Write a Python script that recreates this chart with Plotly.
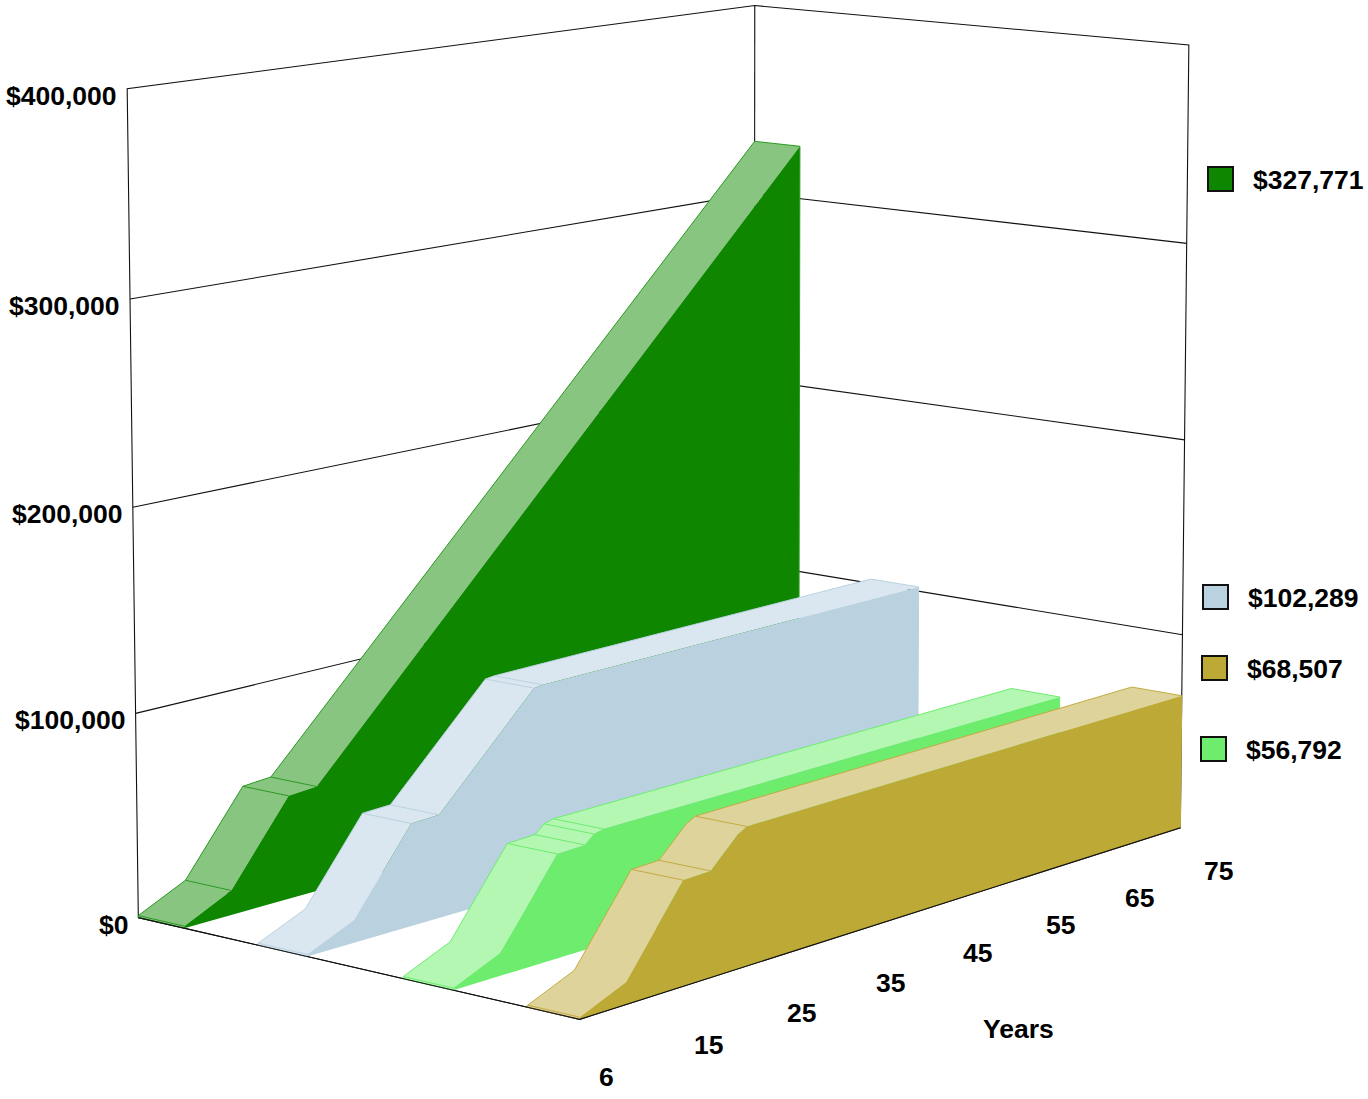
import numpy as np
import plotly.graph_objects as go

# Balances over time, one series per band, back to front.
dark_green_years = [6, 10, 15, 18, 75]
dark_green_values = [1000, 12000, 51000, 52000, 327771]
light_blue_years = [6, 10, 15, 18, 28.5, 29.5, 75]
light_blue_values = [1000, 11000, 50000, 50500, 100500, 101000, 102289]
light_green_years = [6, 10, 15, 18, 19, 20, 75]
light_green_values = [1000, 10800, 50000, 50500, 54500, 55700, 56792]
gold_years = [6, 10, 15, 18, 21, 22, 75]
gold_values = [1000, 10500, 50000, 50500, 64000, 66500, 68507]

year_ticks = [6, 15, 25, 35, 45, 55, 65, 75]
value_ticks = [0, 100000, 200000, 300000, 400000]
value_labels = ["$0", "$100,000", "$200,000", "$300,000", "$400,000"]
axis_title = "Years"
legend_labels = ["$327,771", "$102,289", "$68,507", "$56,792"]

VALUE_MAX = 400000.0
# Where each year tick sits along the unit length of the floor, and its label offset.
YEAR_TICK_POSITIONS = [0, 0.156, 0.297, 0.438, 0.578, 0.719, 0.859, 1]
YEAR_LABEL_DX = [27, 25, 27.9, 29.7, 33.5, 34.3, 35.2, 38]
YEAR_LABEL_DY = [58, 58.3, 55, 53.6, 50.2, 47.8, 45.4, 43]
FONT = dict(family="Liberation Sans, Arial, sans-serif", size=26.5, color="#000000", weight=700)

# Pinhole camera for the box: unit coordinates (along years, into depth, up) against pixels.
# The floor corners are listed more than once so the fit holds them tightest.
box_world = [(0, 0, 0)] * 4 + [(1, 0, 0)] * 2 + [(0, 1, 0)] * 2 + [
    (1, 1, 0), (1, 0, 1), (0, 1, 1), (1, 1, 1),
    (1, 0, .25), (1, 0, .5), (1, 0, .75), (0, 1, .25), (0, 1, .5), (0, 1, .75)]
box_pixel = [(580, 1020)] * 4 + [(1180, 827)] * 2 + [(138, 916)] * 2 + [
    (755, 750), (1189, 45), (127, 90), (755, 5),
    (1182, 634), (1184, 440), (1187, 243), (135, 713), (133, 507), (130, 299)]


def solve_camera(world, pixel):
    rows = []
    for (a, b, c), (u, v) in zip(world, pixel):
        rows.append([a, b, c, 1, 0, 0, 0, 0, -u * a, -u * b, -u * c, -u])
        rows.append([0, 0, 0, 0, a, b, c, 1, -v * a, -v * b, -v * c, -v])
    return np.linalg.svd(np.array(rows, float))[2][-1].reshape(3, 4)


CAMERA = solve_camera(box_world, box_pixel)


def project(t, d, v):
    h = CAMERA @ np.array([t, d, v, 1.0])
    return float(h[0] / h[2]), float(h[1] / h[2])


def year_to_t(year):
    return float(np.interp(year, year_ticks, YEAR_TICK_POSITIONS))


def polygon_trace(polys, fill):
    xs, ys = [], []
    for poly in polys:
        pts = [project(*p) for p in poly]
        xs += [p[0] for p in pts] + [pts[0][0], None]
        ys += [p[1] for p in pts] + [pts[0][1], None]
    return go.Scatter(x=xs, y=ys, mode="lines", fill="toself", fillcolor=fill,
                      line=dict(width=0, color=fill), hoverinfo="skip")


def line_trace(paths, color, width=1.0):
    xs, ys = [], []
    for path in paths:
        pts = [project(*p) for p in path]
        xs += [p[0] for p in pts] + [None]
        ys += [p[1] for p in pts] + [None]
    return go.Scatter(x=xs, y=ys, mode="lines", line=dict(width=width, color=color), hoverinfo="skip")


fig = go.Figure()

# Walls: outline and value gridlines.
wall_paths = [[(0, 1, 0), (0, 1, 1), (1, 1, 1), (1, 0, 1), (1, 0, 0), (0, 0, 0), (0, 1, 0)],
              [(1, 1, 0), (1, 1, 1)]]
for tick in value_ticks[:-1]:
    v = tick / VALUE_MAX
    wall_paths.append([(0, 1, v), (1, 1, v), (1, 0, v)])
fig.add_trace(line_trace(wall_paths, "#111111", 1.1))

bands = [
    dict(years=dark_green_years, values=dark_green_values, depth=(0.89, 1.0),
         front="#0e8600", top="#88c581", edge="#2b9a22", creases=[6, 10, 15, 18]),
    dict(years=light_blue_years, values=light_blue_values, depth=(0.603, 0.716),
         front="#bad2e0", top="#dae7f0", edge="#bad2e0", creases=[6, 15, 18, 28.5, 29.5]),
    dict(years=light_green_years, values=light_green_values, depth=(0.274, 0.385),
         front="#6eec6e", top="#b3f7b3", edge="#6eec6e", creases=[6, 15, 18, 19, 20]),
    dict(years=gold_years, values=gold_values, depth=(0.0, 0.1115),
         front="#bdaa36", top="#ded39a", edge="#c4ab45", creases=[6, 15, 18, 22]),
]

for band in bands:
    near, far = band["depth"]
    ts = [year_to_t(y) for y in band["years"]]
    vs = [val / VALUE_MAX for val in band["values"]]

    tops = [[(ts[0], near, 0), (ts[0], far, 0), (ts[0], far, vs[0]), (ts[0], near, vs[0])]]
    for i in range(len(ts) - 1):
        tops.append([(ts[i], near, vs[i]), (ts[i], far, vs[i]),
                     (ts[i + 1], far, vs[i + 1]), (ts[i + 1], near, vs[i + 1])])
    fig.add_trace(polygon_trace(tops, band["top"]))

    face = [(ts[0], near, 0)] + [(t, near, v) for t, v in zip(ts, vs)] + [(ts[-1], near, 0)]
    fig.add_trace(polygon_trace([face], band["front"]))

    edges = [[(ts[0], far, 0)] + [(t, far, v) for t, v in zip(ts, vs)] + [(ts[-1], near, vs[-1])],
             [(ts[-1], near, vs[-1]), (ts[-1], near, 0)],
             [(ts[0], near, 0), (ts[0], far, 0)]]
    for year in band["creases"]:
        i = band["years"].index(year)
        edges.append([(ts[i], near, vs[i]), (ts[i], far, vs[i])])
    fig.add_trace(line_trace(edges, band["edge"], 1.0))

# Floor edge along the front stays on top of the band feet.
fig.add_trace(line_trace([[(0, 1, 0), (0, 0, 0), (1, 0, 0)]], "#111111", 1.1))

annotations = []


def label(text, x, y, anchor="center"):
    annotations.append(dict(text=text, x=x, y=y, xref="x", yref="y", showarrow=False,
                            xanchor=anchor, yanchor="middle", font=FONT))


for tick, text in zip(value_ticks, value_labels):
    px, py = project(0, 1, tick / VALUE_MAX)
    label(text, px - 8, py + 7, "right")

for tick, dx, dy in zip(year_ticks, YEAR_LABEL_DX, YEAR_LABEL_DY):
    px, py = project(year_to_t(tick), 0, 0)
    label(str(tick), px + dx, py + dy)

label(axis_title, 1018, 1029)

# Value key to the right of the box.
legend_rows = [(legend_labels[0], "#0e8600", 1208, 179, 1251),
               (legend_labels[1], "#bad2e0", 1203, 597, 1246),
               (legend_labels[2], "#bdaa36", 1202, 668, 1245),
               (legend_labels[3], "#6eec6e", 1201, 749, 1244)]
shapes = []
for text, color, sx, sy, tx in legend_rows:
    shapes.append(dict(type="rect", xref="x", yref="y", x0=sx, x1=sx + 25, y0=sy - 12, y1=sy + 12,
                       fillcolor=color, line=dict(color="#111111", width=2)))
    label(text, tx, sy + 1, "left")

fig.update_layout(
    width=1368, height=1099, margin=dict(l=0, r=0, t=0, b=0, pad=0),
    paper_bgcolor="#ffffff", plot_bgcolor="#ffffff", showlegend=False, hovermode=False,
    xaxis=dict(range=[0, 1368], visible=False, fixedrange=True),
    yaxis=dict(range=[1099, 0], visible=False, fixedrange=True),
    annotations=annotations, shapes=shapes,
)
fig.write_html("out.html")
